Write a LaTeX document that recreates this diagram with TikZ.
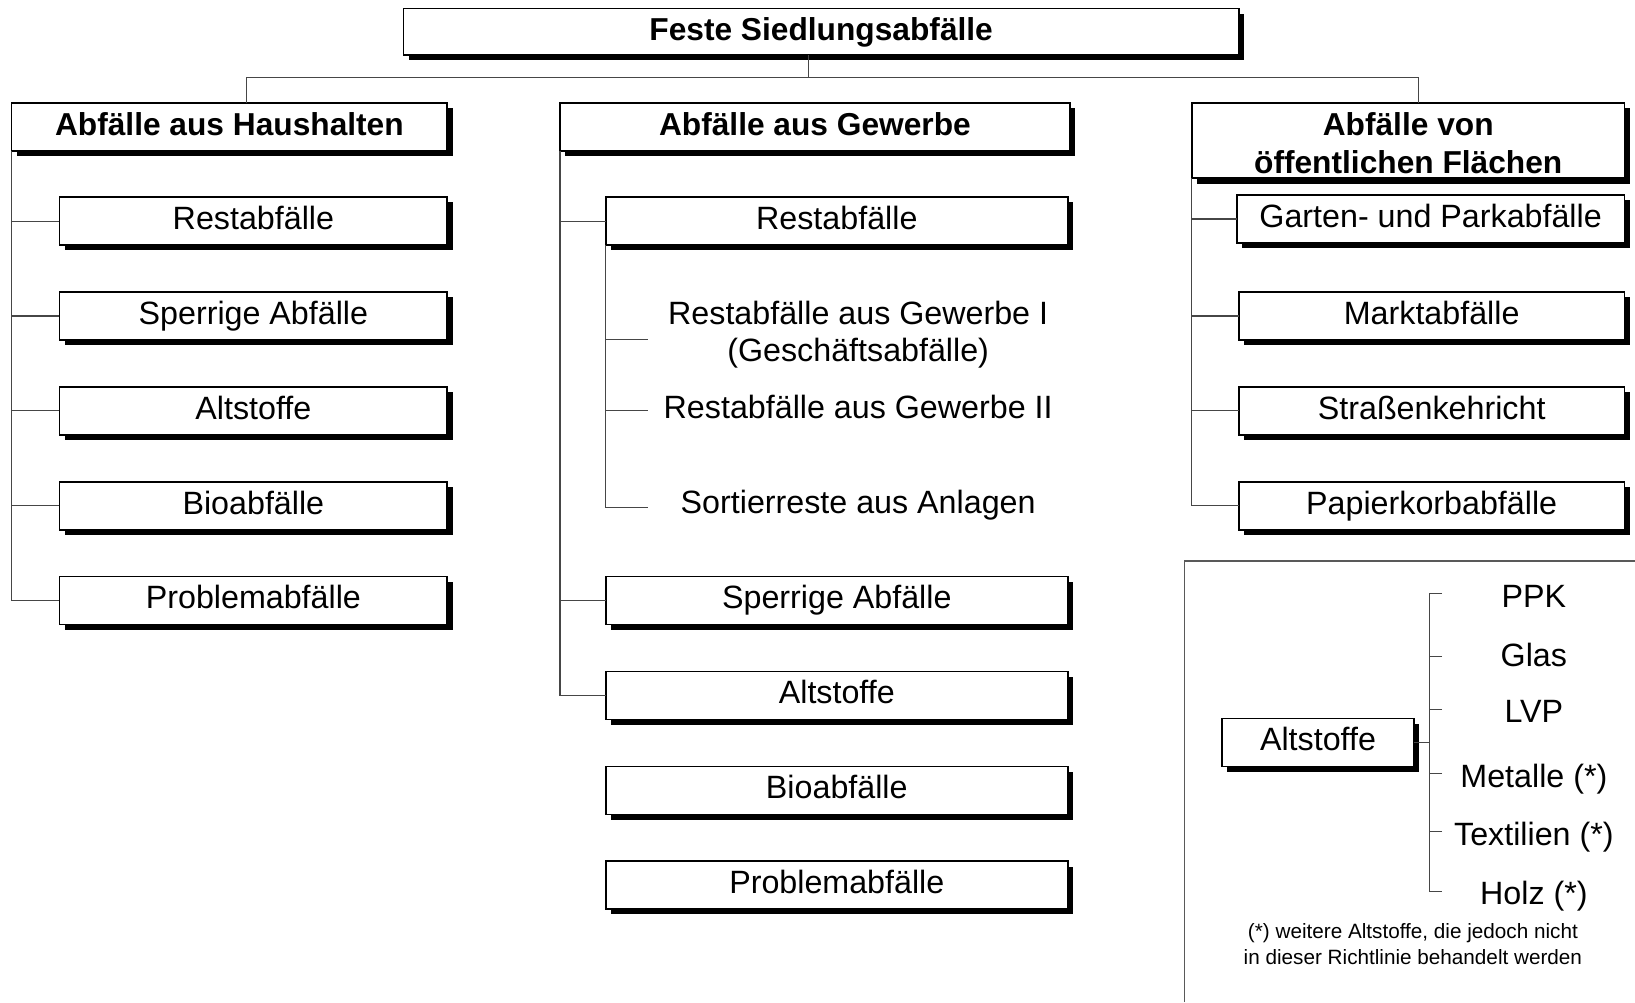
\documentclass[tikz,border=0pt]{standalone}
\usepackage{fontspec}
\setmainfont{Liberation Sans}
\usetikzlibrary{shadows}
\begin{document}
\begin{tikzpicture}[x=0.02cm,y=-0.02cm,
  box/.style={draw=black, line width=0.9pt, fill=white, inner sep=0pt, outer sep=0pt,
    minimum height=0.92cm,
    drop shadow={shadow xshift=0.1cm, shadow yshift=-0.1cm, opacity=1, fill=black},
    font=\fontsize{17.6}{21}\selectfont, text height=14pt, text depth=4.9pt},
  hbox/.style={box, font=\bfseries\fontsize{17.3}{20.5}\selectfont},
  conn/.style={draw=gray!55!black, line width=0.6pt},
  lab/.style={font=\fontsize{17.6}{20.5}\selectfont, inner sep=0pt, anchor=base},
  note/.style={font=\fontsize{11.3}{14.2}\selectfont, inner sep=0pt, align=center, text height=8pt, text depth=2.5pt}]

\fill[white] (0,0) rectangle (1568,961);
\useasboundingbox (0,0) rectangle (1568,961);

% top
\node[hbox, minimum width=16.02cm, minimum height=0.9cm] (top) at (787.5,30.5) {Feste Siedlungsabfälle};

% level 1
\node[hbox, minimum width=8.36cm] (hh) at (220,122) {Abfälle aus Haushalten};
\node[hbox, minimum width=9.78cm] (gw) at (781.5,122) {Abfälle aus Gewerbe};
\node[hbox, minimum width=8.3cm, minimum height=1.44cm, align=center, text height=35.3pt, text depth=0pt] (oe) at (1350.5,135) {Abfälle von\\öffentlichen Flächen};

% Haushalte
\node[box, minimum width=7.44cm] (hh1) at (243,212) {Restabfälle};
\node[box, minimum width=7.44cm] (hh2) at (243,303) {Sperrige Abfälle};
\node[box, minimum width=7.44cm] (hh3) at (243,394) {Altstoffe};
\node[box, minimum width=7.44cm] (hh4) at (243,485) {Bioabfälle};
\node[box, minimum width=7.44cm] (hh5) at (243,576) {Problemabfälle};

% Gewerbe
\node[box, minimum width=8.86cm] (gw1) at (802.5,212) {Restabfälle};
\node[box, minimum width=8.86cm] (gw2) at (802.5,576) {Sperrige Abfälle};
\node[box, minimum width=8.86cm] (gw3) at (802.5,667) {Altstoffe};
\node[box, minimum width=8.86cm] (gw4) at (802.5,758) {Bioabfälle};
\node[box, minimum width=8.86cm] (gw5) at (802.5,849) {Problemabfälle};

\node[font=\fontsize{17.6}{20.5}\selectfont, inner sep=0pt, align=center, text height=12pt, text depth=4pt] (g1) at (823,340) {Restabfälle aus Gewerbe I\\(Geschäftsabfälle)};
\node[lab] (g2) at (823,401) {Restabfälle aus Gewerbe II};
\node[lab] (g3) at (823,492) {Sortierreste aus Anlagen};

% oeffentliche Flaechen
\node[box, minimum width=7.44cm] (oe1) at (1372,210) {Garten- und Parkabfälle};
\node[box, minimum width=7.4cm] (oe2) at (1373,303) {Marktabfälle};
\node[box, minimum width=7.4cm] (oe3) at (1373,394) {Straßenkehricht};
\node[box, minimum width=7.4cm] (oe4) at (1373,485) {Papierkorbabfälle};

% legend
\draw[gray!70!black, line width=0.6pt] (1136,961) -- (1136,538) -- (1568,538);
\node[box, minimum width=3.68cm] (la) at (1264,712) {Altstoffe};
\node[lab] (l1) at (1471,583) {PPK};
\node[lab] (l2) at (1471,639) {Glas};
\node[lab] (l3) at (1471,693) {LVP};
\node[lab] (l4) at (1471,755) {Metalle (*)};
\node[lab] (l5) at (1471,811) {Textilien (*)};
\node[lab] (l6) at (1471,867) {Holz (*)};
\node[note] (fn) at (1355,920) {(*) weitere Altstoffe, die jedoch nicht\\in dieser Richtlinie behandelt werden};

% coordinates
\coordinate (tj) at (775,74);
\coordinate (barL) at (236,74);
\coordinate (barR) at (1360,74);
\coordinate (b1) at (621,326);
\coordinate (b2) at (621,394);
\coordinate (b3) at (621,487);
\coordinate (lv) at (1371,0);
\coordinate (t1) at (1383,569);
\coordinate (t2) at (1383,630);
\coordinate (t3) at (1383,680);
\coordinate (t4) at (1383,742);
\coordinate (t5) at (1383,797);
\coordinate (t6) at (1383,855);

% connectors
\draw[conn] (tj |- top.south) -- (tj);
\draw[conn] (barL |- hh.north) -- (barL) -- (barR) -- (barR |- oe.north);

\draw[conn] (hh.south west) |- (hh5.west);
\foreach \n in {hh1,hh2,hh3,hh4} \draw[conn] (\n.west) -- (\n.west -| hh.south west);

\draw[conn] (gw.south west) |- (gw3.west);
\foreach \n in {gw1,gw2} \draw[conn] (\n.west) -- (\n.west -| gw.south west);

\draw[conn] (gw1.south west) |- (b3);
\foreach \n in {b1,b2} \draw[conn] (\n) -- (\n -| gw1.south west);

\draw[conn] (oe.south west) |- (oe4.west);
\foreach \n in {oe1,oe2,oe3} \draw[conn] (\n.west) -- (\n.west -| oe.south west);

\draw[conn] (la.east) -- (la.east -| lv);
\draw[conn] (t1) -- (t1 -| lv) -- (t6 -| lv) -- (t6);
\foreach \n in {t2,t3,t4,t5} \draw[conn] (\n) -- (\n -| lv);
\end{tikzpicture}
\end{document}
